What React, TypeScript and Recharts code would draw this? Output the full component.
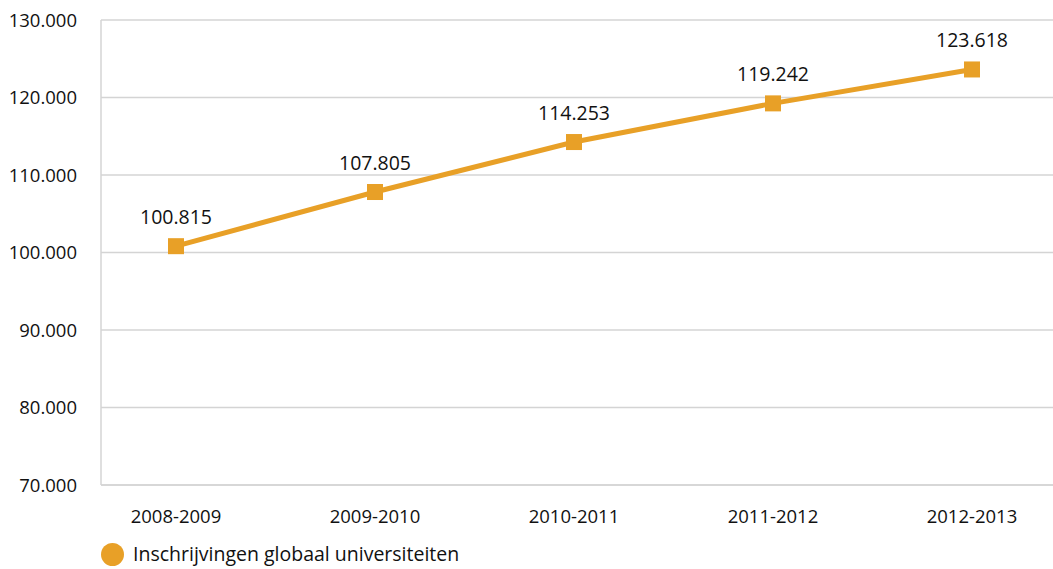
import { CartesianGrid, LabelList, Line, LineChart, XAxis, YAxis } from 'recharts';

const YEARS = ['2008-2009', '2009-2010', '2010-2011', '2011-2012', '2012-2013'];
const INSCHRIJVINGEN = [100815, 107805, 114253, 119242, 123618];
const Y_TICKS = [70000, 80000, 90000, 100000, 110000, 120000, 130000];

const ORANGE = '#E8A027';
const GRID = '#d4d4d4';
const FONT = '"Open Sans", "Noto Sans", sans-serif';

const data = YEARS.map((year, i) => ({ year, value: INSCHRIJVINGEN[i] }));

// 100815 -> "100.815"
const fmt = (v: number) => String(v).replace(/\B(?=(\d{3})+(?!\d))/g, '.');

function SquareDot({ cx, cy }: { cx?: number; cy?: number }) {
  if (cx == null || cy == null) return null;
  return <rect x={cx - 8} y={cy - 8} width={16} height={16} fill={ORANGE} />;
}

export default function App() {
  return (
    <div style={{ position: 'absolute', top: 0, left: 0, width: 1053, height: 569, background: '#fff', fontFamily: FONT, overflow: 'hidden' }}>
      <LineChart width={1053} height={569} data={data} margin={{ top: 20, right: 0, left: 0, bottom: 54 }}>
        <CartesianGrid vertical={false} stroke={GRID} strokeWidth={1.5} />
        <XAxis
          dataKey="year"
          padding={{ left: 75, right: 81 }}
          axisLine={{ stroke: GRID, strokeWidth: 1.5 }}
          tickLine={false}
          tickSize={0}
          tickMargin={25}
          tick={{ fill: '#111', fontSize: 18.5, fontFamily: FONT }}
        />
        <YAxis
          type="number"
          domain={[70000, 130000]}
          ticks={Y_TICKS}
          width={101}
          axisLine={{ stroke: GRID, strokeWidth: 1.5 }}
          tickLine={false}
          tickSize={0}
          tickMargin={24}
          tickFormatter={fmt}
          tick={{ fill: '#111', fontSize: 18.5, fontFamily: FONT }}
        />
        <Line
          dataKey="value"
          stroke={ORANGE}
          strokeWidth={5}
          dot={<SquareDot />}
          activeDot={false}
          isAnimationActive={false}
        >
          <LabelList
            dataKey="value"
            position="top"
            offset={22}
            formatter={(v: number) => fmt(v)}
            style={{ fill: '#111', fontSize: 19.5, fontFamily: FONT }}
          />
        </Line>
      </LineChart>
      <div style={{ position: 'absolute', left: 101, top: 541, display: 'flex', alignItems: 'center', gap: 9 }}>
        <span style={{ width: 23, height: 23, borderRadius: '50%', background: ORANGE, display: 'inline-block', flexShrink: 0 }} />
        <span style={{ fontSize: 19.5, color: '#111', lineHeight: '26px' }}>Inschrijvingen globaal universiteiten</span>
      </div>
    </div>
  );
}
